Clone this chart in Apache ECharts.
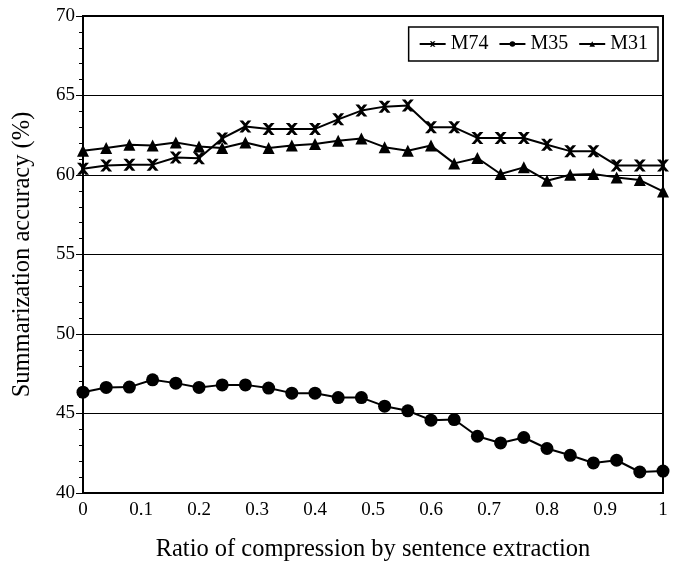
<!DOCTYPE html>
<html>
<head>
<meta charset="utf-8">
<script src="https://cdn.jsdelivr.net/npm/echarts@6/dist/echarts.min.js"></script>
<style>
  html, body { margin: 0; padding: 0; background: #fff; }
  #chart { width: 675px; height: 563px; }
</style>
</head>
<body>
<div id="chart"></div>
<script>
// compression ratios (x)
const ratios = [0, 0.04, 0.08, 0.12, 0.16, 0.2, 0.24, 0.28, 0.32, 0.36, 0.4, 0.44, 0.48,
                0.52, 0.56, 0.6, 0.64, 0.68, 0.72, 0.76, 0.8, 0.84, 0.88, 0.92, 0.96, 1];

const m74 = [60.4, 60.6, 60.65, 60.65, 61.1, 61.05, 62.3, 63.05, 62.9, 62.9, 62.9, 63.5, 64.05,
             64.3, 64.37, 63.0, 63.0, 62.33, 62.33, 62.33, 61.9, 61.5, 61.5, 60.6, 60.6, 60.6];
const m35 = [46.34, 46.64, 46.66, 47.12, 46.91, 46.64, 46.8, 46.8, 46.6, 46.28, 46.28, 46.0, 46.0,
             45.46, 45.17, 44.58, 44.62, 43.57, 43.15, 43.49, 42.8, 42.37, 41.89, 42.06, 41.32, 41.38];
const m31 = [61.53, 61.7, 61.9, 61.85, 62.05, 61.8, 61.7, 62.05, 61.7, 61.85, 61.95, 62.15, 62.3,
             61.75, 61.53, 61.85, 60.73, 61.07, 60.06, 60.48, 59.64, 60.02, 60.06, 59.85, 59.68, 58.97];

const seriesNames = ['M74', 'M35', 'M31'];

const font = 'Liberation Serif';
const crossPath = 'path://M0,0 L3,0 L5,2.2 L7,0 L10,0 L6.6,4 L6.6,6 L10,10 L7,10 L5,7.8 L3,10 L0,10 L3.4,6 L3.4,4 Z';

function pairs(ys) {
    return ratios.map((x, i) => [x, ys[i]]);
}

function lineSeries(name, ys, symbol, size) {
    return {
        name: name,
        type: 'line',
        data: pairs(ys),
        symbol: symbol,
        symbolSize: size,
        showSymbol: true,
        lineStyle: { color: '#000', width: 2 },
        itemStyle: { color: '#000', borderWidth: 0 },
        emphasis: { disabled: true },
        z: 3
    };
}

const chart = echarts.init(document.getElementById('chart'), null, { renderer: 'canvas' });

chart.setOption({
    backgroundColor: '#fff',
    animation: false,
    textStyle: { fontFamily: font, color: '#000' },
    grid: {
        left: 83, right: 12, top: 16, bottom: 70,
        outerBoundsMode: 'none', containLabel: false,
        show: true, borderColor: '#000', borderWidth: 2
    },
    legend: {
        data: seriesNames,
        right: 17,
        top: 27,
        orient: 'horizontal',
        borderColor: '#000',
        borderWidth: 1.5,
        padding: [7, 10, 7, 10],
        itemGap: 10,
        itemWidth: 26,
        itemHeight: 7,
        textStyle: { fontFamily: font, fontSize: 20, color: '#000' }
    },
    xAxis: {
        type: 'value',
        min: 0,
        max: 1,
        interval: 0.1,
        name: 'Ratio of compression by sentence extraction',
        nameLocation: 'middle',
        nameGap: 44,
        nameTextStyle: { fontFamily: font, fontSize: 24.5, color: '#000' },
        axisLine: { show: true, lineStyle: { color: '#000', width: 2 } },
        axisTick: { show: false },
        axisLabel: { fontFamily: font, fontSize: 19, color: '#000', margin: 8 },
        splitLine: { show: false }
    },
    yAxis: {
        type: 'value',
        min: 40,
        max: 70,
        interval: 5,
        name: 'Summarization accuracy (%)',
        nameLocation: 'middle',
        nameGap: 48,
        nameTextStyle: { fontFamily: font, fontSize: 24.5, color: '#000' },
        axisLine: { show: true, lineStyle: { color: '#000', width: 2 } },
        axisTick: { show: true, length: 7, lineStyle: { color: '#000', width: 1 } },
        minorTick: { show: true, splitNumber: 5, length: 4, lineStyle: { color: '#000', width: 1 } },
        axisLabel: { fontFamily: font, fontSize: 19, color: '#000', margin: 8 },
        splitLine: { show: true, lineStyle: { color: '#000', width: 1.2 } }
    },
    series: [
        lineSeries('M74', m74, crossPath, 12),
        lineSeries('M35', m35, 'circle', 13),
        lineSeries('M31', m31, 'triangle', 12)
    ]
});
</script>
</body>
</html>
